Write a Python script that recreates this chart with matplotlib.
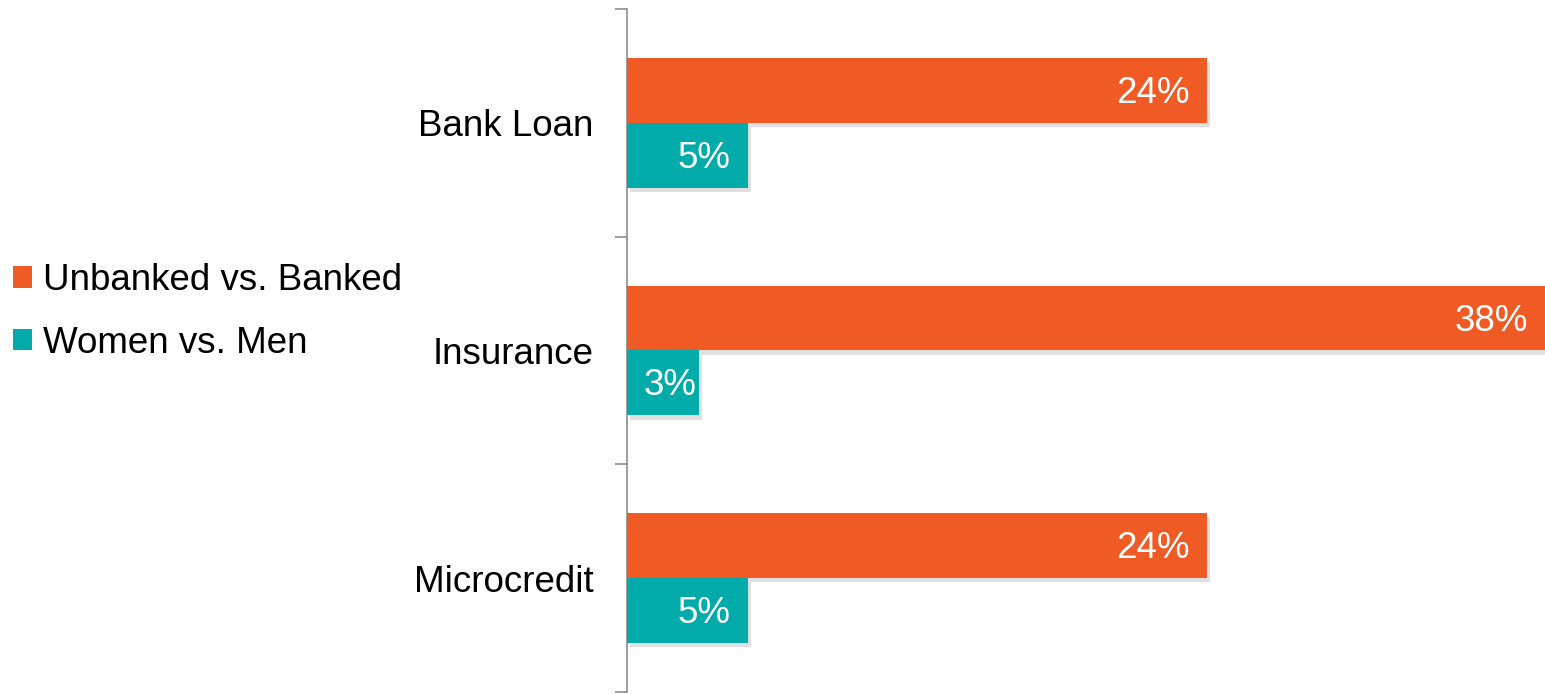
import numpy as np
import matplotlib
matplotlib.use('Agg')
import matplotlib.pyplot as plt
import matplotlib.patheffects as pe
from matplotlib.patches import Patch

plt.rcParams['font.family'] = ['Liberation Sans', 'DejaVu Sans']

categories = ['Bank Loan', 'Insurance', 'Microcredit']
unbanked_vs_banked = [24, 38, 24]
women_vs_men = [5, 3, 5]
series_names = ['Unbanked vs. Banked', 'Women vs. Men']
colors = ['#F05A24', '#00ABAA']

fig = plt.figure(figsize=(15.45, 6.94), dpi=100)
ax = fig.add_axes([627 / 1545, 2 / 694, 1 - 627 / 1545, 683 / 694])

y = np.arange(len(categories))
bar_h = 0.285
fs = 26.5
inset = 17  # px between label and bar edge
shadow = [pe.SimplePatchShadow(offset=(2, -3), shadow_rgbFace='#000000', alpha=0.12), pe.Normal()]

b1 = ax.barh(y - bar_h / 2, unbanked_vs_banked, height=bar_h, color=colors[0], zorder=3)
b2 = ax.barh(y + bar_h / 2, women_vs_men, height=bar_h, color=colors[1], zorder=3)
for bars in (b1, b2):
    for p in bars:
        p.set_path_effects(shadow)

ax.set_xlim(0, 38)
ax.set_ylim(len(categories) - 0.5, -0.5)

# value labels inside the bar ends
labels = []
for bars, vals in ((b1, unbanked_vs_banked), (b2, women_vs_men)):
    for p, v in zip(bars, vals):
        t = ax.annotate(f'{v}%', xy=(v, p.get_y() + p.get_height() / 2),
                        xytext=(-inset, -3), textcoords='offset pixels',
                        ha='right', va='center', color='white', fontsize=fs, zorder=4)
        labels.append(t)

# labels too wide for a short bar start at the bar base instead
fig.canvas.draw()
x0 = ax.transData.transform((0, 0))[0]
for t in labels:
    bb = t.get_window_extent()
    if bb.x0 < x0 + inset:
        t.xy = (0, t.xy[1])
        t.set_position((inset, -3))
        t.set_ha('left')

for s in ['top', 'right', 'bottom']:
    ax.spines[s].set_visible(False)
ax.spines['left'].set_color('#8C8C8C')
ax.spines['left'].set_linewidth(1.2)
ax.set_xticks([])

# ticks at the band edges, names at the band centres
ax.set_yticks(np.arange(-0.5, len(categories), 1.0))
ax.set_yticklabels([])
ax.tick_params(axis='y', which='major', length=8.5, width=1.2, color='#8C8C8C')
ax.set_yticks(y, minor=True)
ax.set_yticklabels(categories, minor=True, fontsize=fs)
ax.tick_params(axis='y', which='minor', length=0, pad=24)

handles = [Patch(facecolor=c, label=n) for c, n in zip(colors, series_names)]
fig.legend(handles=handles, loc='center left', bbox_to_anchor=(13 / 1545, 1 - 312 / 694),
           frameon=False, fontsize=fs, handlelength=0.52, handleheight=0.52,
           handletextpad=0.3, labelspacing=0.75, borderpad=0, borderaxespad=0)

fig.savefig('out.png', dpi=100)
